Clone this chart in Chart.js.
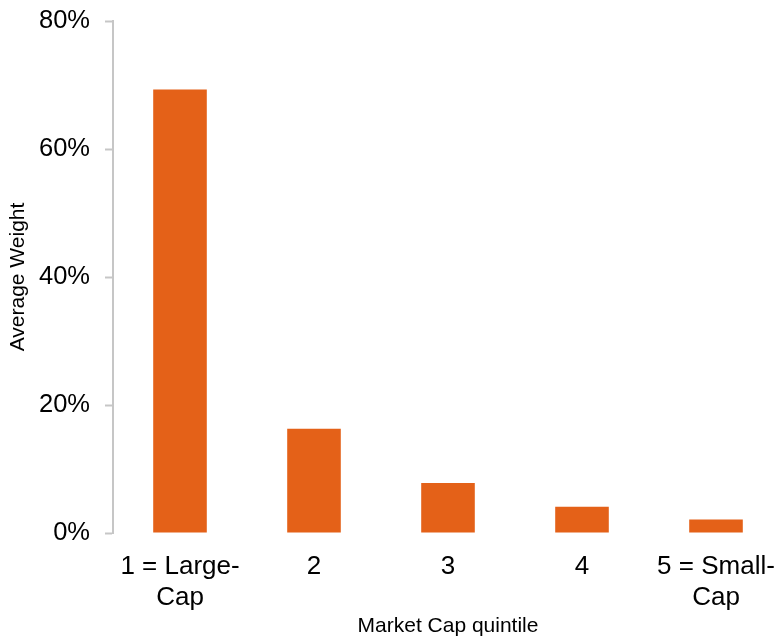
<!DOCTYPE html>
<html>
<head>
<meta charset="utf-8">
<script src="https://cdn.jsdelivr.net/npm/chart.js@4/dist/chart.umd.min.js"></script>
<style>
  html, body { margin: 0; padding: 0; background: #fff; overflow: hidden; }
  #wrap { width: 790px; height: 639px; }
</style>
</head>
<body>
<div id="wrap"><canvas id="c" width="790" height="639"></canvas></div>
<script>
const categories = [["1 = Large-", "Cap"], "2", "3", "4", ["5 = Small-", "Cap"]];
const averageWeight = [69.3, 16.3, 7.8, 4.1, 2.1];
const yTicks = [0, 20, 40, 60, 80];
const xTitle = "Market Cap quintile";
const yTitle = "Average Weight";

const FONT = "'Liberation Sans', Arial, sans-serif";
const axisGrey = '#c6c6c6';

new Chart(document.getElementById('c'), {
  type: 'bar',
  data: {
    labels: categories,
    datasets: [{
      data: averageWeight,
      backgroundColor: '#E46118',
      borderWidth: 0,
      barPercentage: 0.4,
      categoryPercentage: 1.0
    }]
  },
  options: {
    responsive: false,
    animation: false,
    layout: { autoPadding: false, padding: { top: 21, right: 7, left: 0, bottom: 0 } },
    plugins: { legend: { display: false }, tooltip: { enabled: false } },
    scales: {
      x: {
        grid: { display: false, drawTicks: false },
        border: { display: false },
        ticks: {
          color: '#000',
          font: { family: FONT, size: 26, lineHeight: 1.19 },
          padding: 18,
          maxRotation: 0,
          autoSkip: false
        },
        title: {
          display: true,
          text: xTitle,
          color: '#000',
          font: { family: FONT, size: 21 },
          padding: { top: 0, bottom: 0 }
        },
        afterFit: (s) => { s.height = 106; s.paddingLeft = 0; s.paddingRight = 0; }
      },
      y: {
        min: 0,
        max: 80,
        afterBuildTicks: (s) => { s.ticks = yTicks.map(v => ({ value: v })); },
        grid: {
          drawOnChartArea: false,
          drawTicks: true,
          tickLength: 8,
          tickWidth: 2,
          color: axisGrey
        },
        border: { display: true, color: axisGrey, width: 2 },
        ticks: {
          color: '#000',
          font: { family: FONT, size: 25.5 },
          padding: 15,
          callback: (v) => v + '%'
        },
        title: {
          display: true,
          text: yTitle,
          color: '#000',
          font: { family: FONT, size: 21 },
          padding: { top: 6, bottom: 0 }
        },
        afterFit: (s) => { s.width = 113; s.paddingTop = 0; s.paddingBottom = 0; }
      }
    }
  }
});
</script>
</body>
</html>
